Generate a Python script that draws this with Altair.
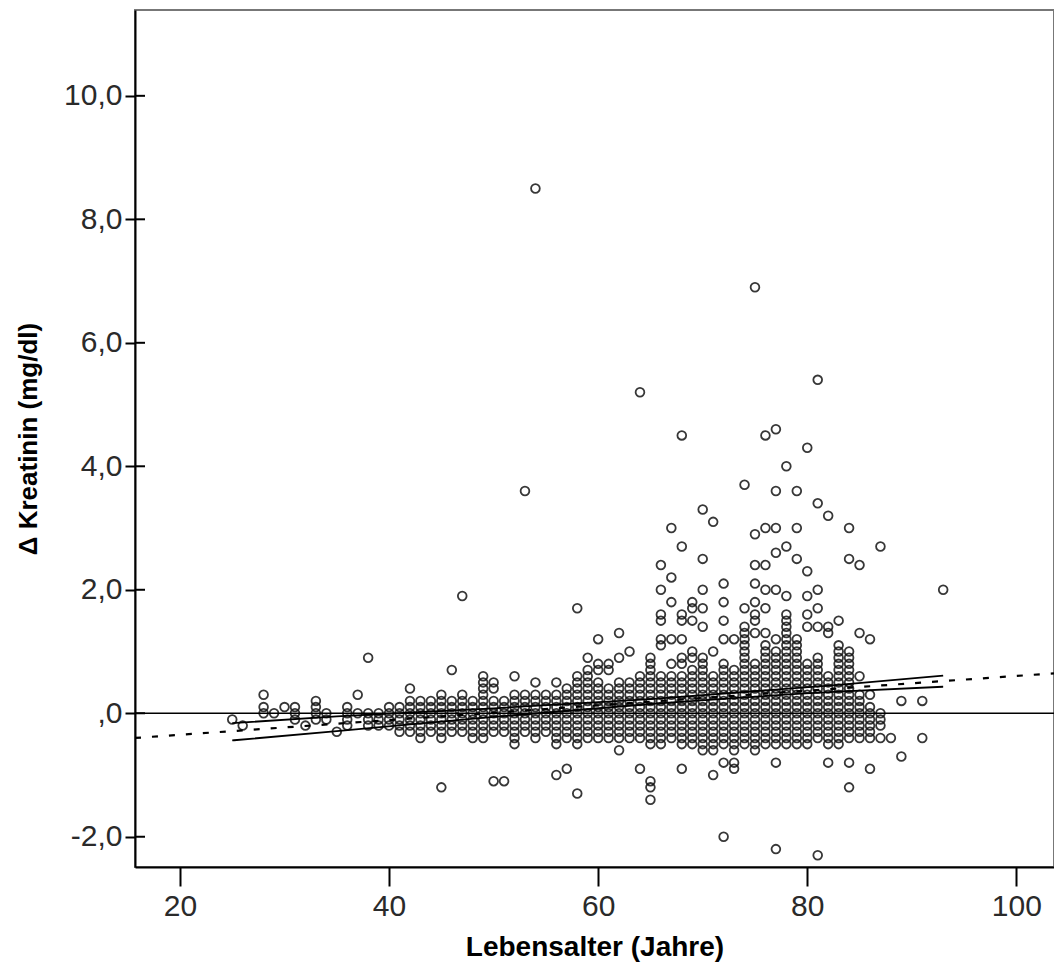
import altair as alt
import pandas as pd

# ---- data ----
ages = [25, 26, 28, 29, 30, 31, 32, 33, 34, 35, 36, 37, 38, 39, 40, 41, 42, 43, 44, 45,
        46, 47, 48, 49, 50, 51, 52, 53, 54, 55, 56, 57, 58, 59, 60, 61, 62, 63, 64, 65,
        66, 67, 68, 69, 70, 71, 72, 73, 74, 75, 76, 77, 78, 79, 80, 81, 82, 83, 84, 85,
        86, 87, 88, 89, 91, 93]

# delta creatinine per age, in tenths of mg/dl (distinct values visible in the picture)
delta_tenths = [
    "-1", "-2", "3 1 0", "0", "1", "1 0 -1", "-2", "2 1 0 -1", "0 -1", "-3",
    "1 0 -1 -2", "3 0", "9 0 -1 -2", "0 -1 -2", "1 0 -1 -2", "1 0 -1 -2 -3",
    "4 2 1 0 -1 -2 -3", "2 1 0 -1 -2 -3 -4", "2 1 0 -1 -2 -3",
    "3 2 1 0 -1 -2 -3 -4 -12",
    "7 2 1 0 -1 -2 -3", "19 3 2 1 0 -1 -2 -3", "2 1 0 -1 -2 -3 -4",
    "6 5 4 3 2 1 0 -1 -2 -3 -4", "5 4 2 1 0 -1 -2 -3 -11", "2 1 0 -1 -2 -3 -11",
    "6 3 2 1 0 -1 -2 -3 -4 -5", "36 3 2 1 0 -1 -2 -3", "85 5 3 2 1 0 -1 -2 -3 -4",
    "3 2 1 0 -1 -2 -3", "5 3 2 1 0 -1 -2 -3 -4 -5 -10", "4 3 2 1 0 -1 -2 -3 -4 -9",
    "17 6 5 4 3 2 1 0 -1 -2 -3 -4 -5 -13", "9 7 6 5 4 3 2 1 0 -1 -2 -3 -4",
    "12 8 7 5 4 3 2 1 0 -1 -2 -3 -4", "8 7 4 3 2 1 0 -1 -2 -3 -4",
    "13 9 5 4 3 2 1 0 -1 -2 -3 -4 -6", "10 5 4 3 2 1 0 -1 -2 -3 -4",
    "52 6 5 4 3 2 1 0 -1 -2 -3 -4 -9",
    "9 8 7 6 5 4 3 2 1 0 -1 -2 -3 -4 -5 -11 -12 -14",
    "24 20 16 15 12 11 6 5 4 3 2 1 0 -1 -2 -3 -4 -5",
    "30 22 18 12 8 6 5 4 3 2 1 0 -1 -2 -3 -4",
    "45 27 16 15 12 9 8 6 5 4 3 2 1 0 -1 -2 -3 -4 -5 -9",
    "18 17 15 10 9 7 6 5 4 3 2 1 0 -1 -2 -3 -4 -5",
    "33 25 20 17 14 9 8 7 6 5 4 3 2 1 0 -1 -2 -3 -4 -5 -6",
    "31 10 6 5 4 3 2 1 0 -1 -2 -3 -4 -5 -6 -10",
    "21 18 15 12 8 7 6 5 4 3 2 1 0 -1 -2 -3 -4 -5 -8 -20",
    "12 7 6 5 4 3 2 1 0 -1 -2 -3 -4 -5 -6 -8 -9",
    "37 17 14 13 12 11 10 9 8 7 6 5 4 3 2 1 0 -1 -2 -3 -4 -5",
    "69 29 24 21 18 16 15 13 8 7 6 5 4 3 2 1 0 -1 -2 -3 -4 -5 -6",
    "45 30 24 20 17 13 11 10 9 8 7 6 5 4 3 2 1 0 -1 -2 -3 -4 -5",
    "46 36 30 26 20 12 10 9 8 7 6 5 4 3 2 1 0 -1 -2 -3 -4 -5 -8 -22",
    "40 27 19 16 15 14 13 12 11 10 9 8 7 6 5 4 3 2 1 0 -1 -2 -3 -4 -5",
    "36 30 25 12 11 10 9 8 7 6 5 4 3 2 1 0 -1 -2 -3 -4 -5",
    "43 23 19 16 14 8 7 6 5 4 3 2 1 0 -1 -2 -3 -4 -5",
    "54 34 20 17 14 9 8 7 6 5 4 3 2 1 0 -1 -2 -3 -4 -23",
    "32 14 13 6 5 4 3 2 1 0 -1 -2 -3 -4 -5 -8",
    "15 11 10 9 8 7 6 5 4 3 2 1 0 -1 -2 -3 -4 -5",
    "30 25 10 9 8 7 6 5 4 3 2 1 0 -1 -2 -3 -4 -8 -12",
    "24 13 6 3 2 1 0 -1 -2 -3 -4",
    "12 3 1 0 -1 -2 -3 -4 -9",
    "27 0 -1 -2 -4",
    "-4", "2 -7", "2 -4", "20",
]

# regression line (dashed) and its confidence band (solid)
fit_age = [15.7, 103.6]
fit_val = [-0.40, 0.647]
ci_age = [25, 35, 50, 65, 83, 93]
ci_upper = [-0.16, -0.05, 0.08, 0.23, 0.46, 0.61]
ci_lower = [-0.44, -0.29, -0.06, 0.15, 0.35, 0.43]

x_ticks = [20, 40, 60, 80, 100]
y_ticks = [-2, 0, 2, 4, 6, 8, 10]

# ---- build tables ----
rows = []
for a, s in zip(ages, delta_tenths):
    for t in s.split():
        rows.append({"age": a, "delta": int(t) / 10})
pts = pd.DataFrame(rows)
fit = pd.DataFrame({"age": fit_age, "val": fit_val})
ci = pd.DataFrame({"age": ci_age * 2, "val": ci_upper + ci_lower,
                   "band": ["upper"] * len(ci_age) + ["lower"] * len(ci_age)})
yt = pd.DataFrame({"v": y_ticks})

FONT = "Liberation Sans"
xscale = alt.Scale(domain=[15.7, 103.6], nice=False, zero=False)
yscale = alt.Scale(domain=[-2.49, 11.39], nice=False, zero=False)

LBL = "replace(replace(format(datum.value, '.1f'), '.', ','), '\u2212', '-')"

xaxis = alt.Axis(values=x_ticks, format="d", title="Lebensalter (Jahre)", grid=False,
                 labelFontSize=30, labelColor="#2a2a2a", labelFont=FONT, labelPadding=5,
                 tickSize=19, tickColor="#000", tickWidth=2,
                 domainColor="#000", domainWidth=2,
                 titleFont=FONT, titleFontSize=28, titleFontWeight="bold",
                 titleColor="#000", titlePadding=12)
yaxis = alt.Axis(values=y_ticks, title="Δ Kreatinin (mg/dl)", grid=False,
                 labelExpr=f"{LBL} == '0,0' ? ',0' : {LBL}",
                 labelFontSize=30, labelColor="#2a2a2a", labelFont=FONT, labelPadding=3,
                 tickSize=10, tickColor="#000", tickWidth=2,
                 domainColor="#000", domainWidth=2,
                 titleFont=FONT, titleFontSize=26, titleFontWeight="bold",
                 titleColor="#000", titlePadding=22)

points = alt.Chart(pts).mark_point(shape="circle", filled=False, size=76,
                                   strokeWidth=1.8, color="#151515", opacity=0.85,
                                   clip=True).encode(
    x=alt.X("age:Q", scale=xscale, axis=xaxis),
    y=alt.Y("delta:Q", scale=yscale, axis=yaxis),
)

zero = alt.Chart(pd.DataFrame({"v": [0]})).mark_rule(color="#000", strokeWidth=1.6).encode(
    y=alt.Y("v:Q", scale=yscale)
)

# inner half of the y ticks (SPSS draws ticks crossing the axis)
inner_ticks = alt.Chart(yt).mark_rule(color="#000", strokeWidth=2).encode(
    y=alt.Y("v:Q", scale=yscale), x=alt.value(0), x2=alt.value(10)
)

dashed = alt.Chart(fit).mark_line(color="#000", strokeWidth=2.2, strokeDash=[6, 11],
                                  clip=True).encode(
    x=alt.X("age:Q", scale=xscale),
    y=alt.Y("val:Q", scale=yscale),
)

band = alt.Chart(ci).mark_line(color="#000", strokeWidth=1.8, interpolate="monotone").encode(
    x=alt.X("age:Q", scale=xscale),
    y=alt.Y("val:Q", scale=yscale),
    detail="band:N",
)

chart = alt.layer(points, zero, inner_ticks, dashed, band).properties(
    width=919, height=857,
    autosize=alt.AutoSizeParams(type="none"),
    padding={"left": 135, "top": 10, "right": 0, "bottom": 113},
    background="white",
).configure_view(stroke="#777", strokeWidth=2)

chart.save("out.html", embed_options={"renderer": "svg", "actions": False})
